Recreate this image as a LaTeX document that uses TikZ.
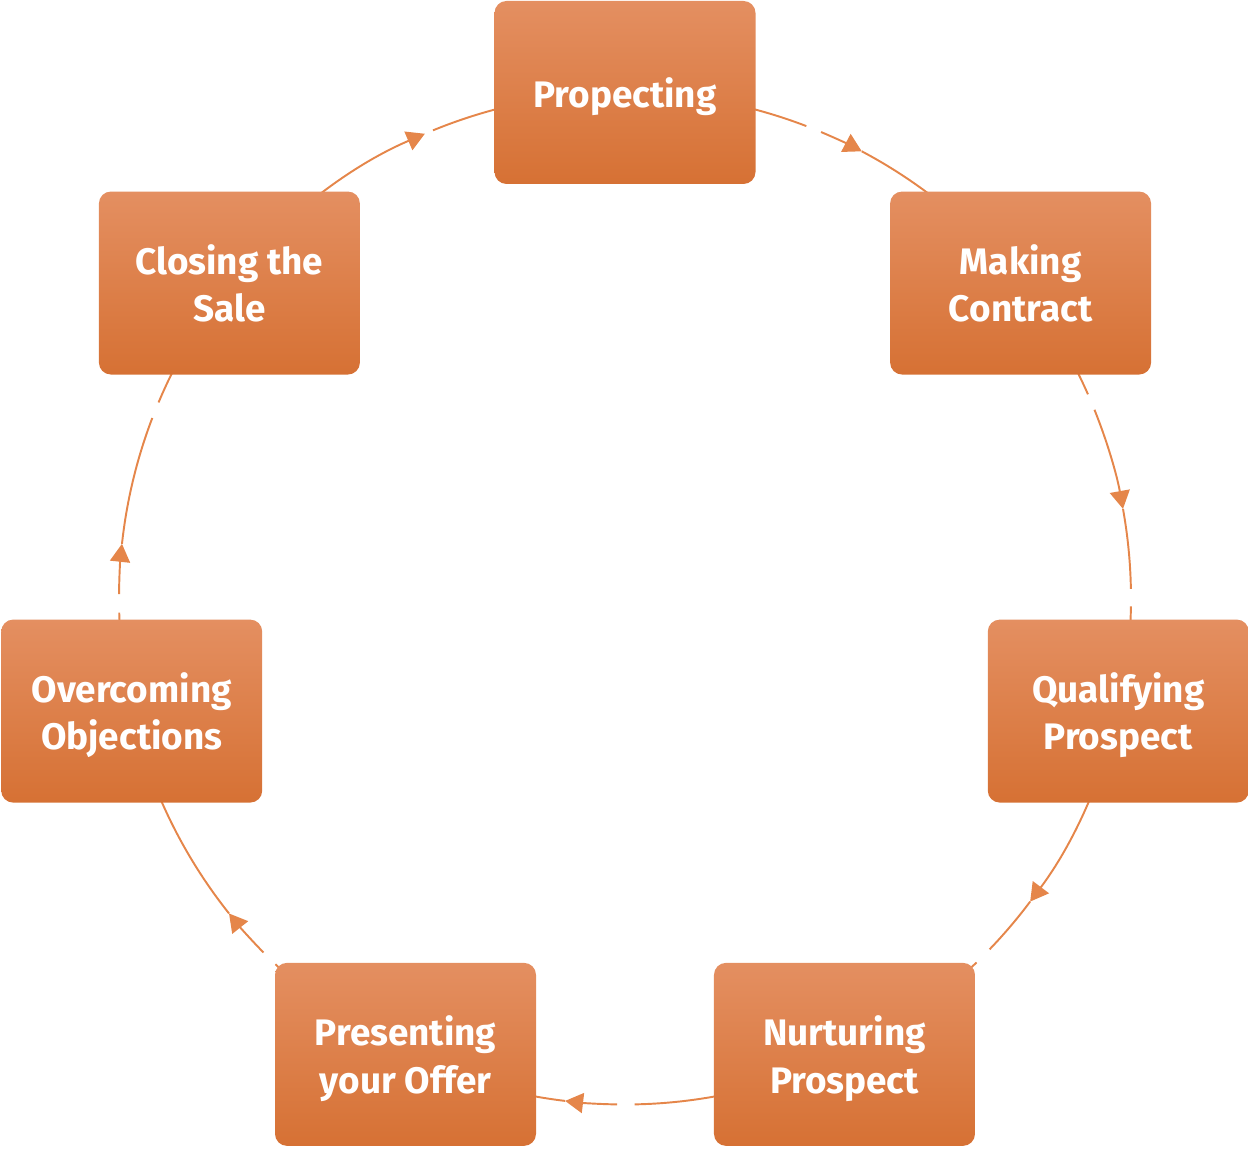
\documentclass[tikz,border=0pt]{standalone}
\usepackage{fontspec}
\setmainfont{Fira Sans}
\usetikzlibrary{arrows.meta,backgrounds,calc}
\definecolor{stagetop}{HTML}{E48F61}
\definecolor{stagebottom}{HTML}{D67134}
\definecolor{linkorange}{HTML}{E5864A}
\tikzset{
  stage/.style={rounded corners=2.4mm, top color=stagetop, bottom color=stagebottom,
    minimum width=5.22cm, minimum height=3.66cm, inner sep=0pt, align=center,
    text depth=0pt, text=white, font=\bfseries\fontsize{21}{27}\selectfont},
  link/.style={draw=linkorange, line width=1.1pt},
  linktip/.style={link, -{Triangle[length=3.6mm,width=4mm]}}
}
\newcommand{\ringr}{10.12}

\begin{document}
\begin{tikzpicture}
\useasboundingbox (0,0) rectangle (24.96,22.98);
\coordinate (hub) at (12.5,11.01);
% Stages round the ring
\node[stage] (pro) at ($(hub)+(90:\ringr)$) {Propecting};
\node[stage] (con) at ($(hub)+(38.57:\ringr)$) {Making\\Contract};
\node[stage] (qua) at ($(hub)+(-12.86:\ringr)$) {Qualifying\\Prospect};
\node[stage] (nur) at ($(hub)+(-64.29:\ringr)$) {Nurturing\\Prospect};
\node[stage] (off) at ($(hub)+(-115.71:\ringr)$) {Presenting\\your Offer};
\node[stage] (obj) at ($(hub)+(-167.14:\ringr)$) {Overcoming\\Objections};
\node[stage] (clo) at ($(hub)+(141.43:\ringr)$) {Closing the\\Sale};
\begin{scope}[on background layer]
% Propecting to making contract
\draw[link] (pro.center) arc[start angle=90, end angle=69, radius=\ringr];
\draw[linktip] ($(hub)+(67.2:\ringr)$) arc[start angle=67.2, end angle=62.1, radius=\ringr];
\draw[link] ($(hub)+(62.1:\ringr)$) arc[start angle=62.1, end angle=38.57, radius=\ringr];
% Making contract to qualifying
\draw[link] (con.center) arc[start angle=38.57, end angle=23.8, radius=\ringr];
\draw[linktip] ($(hub)+(21.9:\ringr)$) arc[start angle=21.9, end angle=10.2, radius=\ringr];
\draw[link] ($(hub)+(10.2:\ringr)$) arc[start angle=10.2, end angle=1.1, radius=\ringr];
\draw[link] ($(hub)+(-0.9:\ringr)$) arc[start angle=-0.9, end angle=-12.86, radius=\ringr];
% Qualifying to nurturing
\draw[linktip] (qua.center) arc[start angle=-12.86, end angle=-36.8, radius=\ringr];
\draw[link] ($(hub)+(-36.8:\ringr)$) arc[start angle=-36.8, end angle=-43.9, radius=\ringr];
\draw[link] ($(hub)+(-46:\ringr)$) arc[start angle=-46, end angle=-64.29, radius=\ringr];
% Nurturing to offer
\draw[link] (nur.center) arc[start angle=-64.29, end angle=-88.9, radius=\ringr];
\draw[linktip] ($(hub)+(-90.9:\ringr)$) arc[start angle=-90.9, end angle=-96.8, radius=\ringr];
\draw[link] ($(hub)+(-96.8:\ringr)$) arc[start angle=-96.8, end angle=-115.71, radius=\ringr];
% Offer to objections
\draw[link] (off.center) arc[start angle=-115.71, end angle=-133.7, radius=\ringr];
\draw[linktip] ($(hub)+(-135.6:\ringr)$) arc[start angle=-135.6, end angle=-141.5, radius=\ringr];
\draw[link] ($(hub)+(-141.5:\ringr)$) arc[start angle=-141.5, end angle=-167.14, radius=\ringr];
% Objections to closing
\draw[link] (obj.center) arc[start angle=-167.14, end angle=-178.4, radius=\ringr];
\draw[linktip] ($(hub)+(-180.5:\ringr)$) arc[start angle=-180.5, end angle=-186.2, radius=\ringr];
\draw[link] ($(hub)+(-186.2:\ringr)$) arc[start angle=-186.2, end angle=-200.9, radius=\ringr];
\draw[link] ($(hub)+(-202.8:\ringr)$) arc[start angle=-202.8, end angle=-218.57, radius=\ringr];
% Closing back to propecting
\draw[linktip] (clo.center) arc[start angle=141.43, end angle=113.3, radius=\ringr];
\draw[link] ($(hub)+(112.3:\ringr)$) arc[start angle=112.3, end angle=90, radius=\ringr];
\end{scope}
\end{tikzpicture}
\end{document}
